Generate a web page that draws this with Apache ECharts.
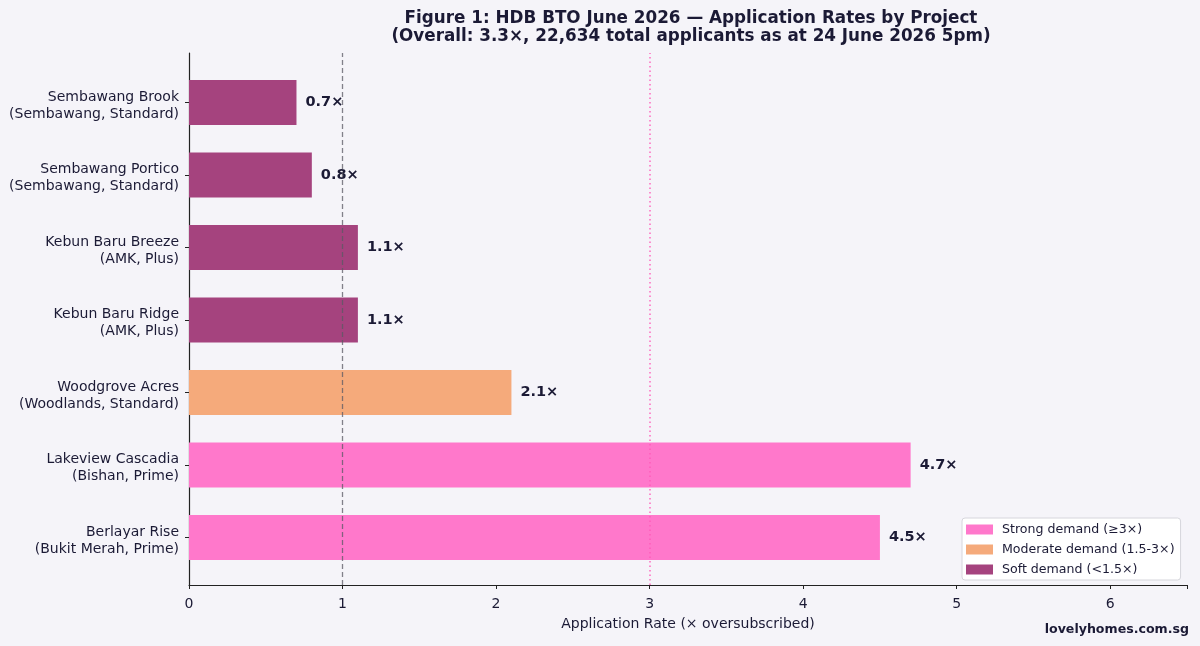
<!DOCTYPE html>
<html>
<head>
<meta charset="utf-8">
<script src="https://cdn.jsdelivr.net/npm/echarts@6/dist/echarts.min.js"></script>
<style>
html,body{margin:0;padding:0;background:#f5f4f9;}
#chart{width:1200px;height:646px;}
</style>
</head>
<body>
<div id="chart"></div>
<script>
const projects = [
  "Sembawang Brook\n(Sembawang, Standard)",
  "Sembawang Portico\n(Sembawang, Standard)",
  "Kebun Baru Breeze\n(AMK, Plus)",
  "Kebun Baru Ridge\n(AMK, Plus)",
  "Woodgrove Acres\n(Woodlands, Standard)",
  "Lakeview Cascadia\n(Bishan, Prime)",
  "Berlayar Rise\n(Bukit Merah, Prime)"
];
const rates = [0.7, 0.8, 1.1, 1.1, 2.1, 4.7, 4.5];
const demandGroups = ["Strong demand (≥3×)", "Moderate demand (1.5-3×)", "Soft demand (<1.5×)"];
const groupColors = ["#ff78cb", "#f5aa7b", "#a5437e"];
const referenceLines = [1, 3];
const xTicks = [0, 1, 2, 3, 4, 5, 6];

function groupOf(v) { return v >= 3 ? 0 : (v >= 1.5 ? 1 : 2); }

const FONT = "DejaVu Sans";
const TXT = "#1b1a35";

const barSeries = demandGroups.map((name, gi) => ({
  name: name,
  type: 'bar',
  stack: 'r',
  xAxisIndex: 1,
  yAxisIndex: 1,
  barWidth: 45,
  itemStyle: { color: groupColors[gi] },
  data: rates.map(v => groupOf(v) === gi ? v : '-'),
  label: {
    show: true,
    position: 'right',
    distance: 9,
    fontFamily: FONT,
    fontWeight: 'bold',
    fontSize: 14.5,
    color: TXT,
    formatter: p => p.value.toFixed(1) + '×'
  },
  z: 2
}));

const option = {
  backgroundColor: '#f5f4f9',
  animation: false,
  title: {
    text: 'Figure 1: HDB BTO June 2026 — Application Rates by Project\n(Overall: 3.3×, 22,634 total applicants as at 24 June 2026 5pm)',
    left: 686,
    textAlign: 'center',
    top: 4,
    textStyle: { fontFamily: FONT, fontWeight: 'bold', fontSize: 16.8, color: TXT, lineHeight: 18.5 }
  },
  graphic: [{
    type: 'text',
    right: 11,
    top: 623,
    style: { text: 'lovelyhomes.com.sg', fontFamily: FONT, fontWeight: 'bold', fontSize: 12.6, fill: TXT }
  }],
  legend: {
    orient: 'vertical',
    left: 962,
    top: 518,
    itemWidth: 27,
    itemHeight: 10,
    itemGap: 7,
    padding: [5, 6, 4, 4],
    backgroundColor: '#ffffff',
    borderColor: '#d6d6dc',
    borderWidth: 1,
    borderRadius: 3,
    icon: 'rect',
    textStyle: { fontFamily: FONT, fontSize: 12.6, color: TXT, padding: [0, 0, 0, 4] },
    data: demandGroups
  },
  grid: [
    { left: 189, right: 13, top: 53, bottom: 61 },
    { left: 189, right: 13, top: 66.25, height: 507.5 },
    { left: 189, right: 13, top: 69.25, height: 507.5 }
  ],
  xAxis: [
    {
      gridIndex: 0, type: 'value', min: 0, max: 6.5, interval: 1,
      axisLine: { show: true, lineStyle: { color: '#222', width: 1.2 } },
      axisTick: { show: true, length: 4, lineStyle: { color: '#222' } },
      axisLabel: { fontFamily: FONT, fontSize: 14, color: TXT, margin: 12,
        formatter: v => xTicks.includes(v) ? String(v) : '' },
      splitLine: { show: false },
      name: 'Application Rate (× oversubscribed)',
      nameLocation: 'middle',
      nameGap: 32,
      nameTextStyle: { fontFamily: FONT, fontSize: 14, color: TXT }
    },
    { gridIndex: 1, type: 'value', min: 0, max: 6.5, show: false },
    { gridIndex: 2, type: 'value', min: 0, max: 6.5, show: false }
  ],
  yAxis: [
    {
      gridIndex: 0, type: 'value', min: 0, max: 1,
      axisLine: { show: true, lineStyle: { color: '#222', width: 1.2 } },
      axisTick: { show: false }, axisLabel: { show: false }, splitLine: { show: false }
    },
    {
      gridIndex: 1, type: 'category', inverse: true, data: projects,
      axisLine: { show: false },
      axisTick: { show: true, alignWithLabel: true, length: 4, lineStyle: { color: '#222' } },
      axisLabel: { show: false },
      splitLine: { show: false }
    },
    {
      gridIndex: 2, type: 'category', inverse: true, data: projects,
      axisLine: { show: false },
      axisTick: { show: false },
      axisLabel: { fontFamily: FONT, fontSize: 14, color: TXT, margin: 10, lineHeight: 17, align: 'right' },
      splitLine: { show: false }
    }
  ],
  series: barSeries.concat([{
    type: 'scatter',
    xAxisIndex: 0,
    yAxisIndex: 0,
    data: [],
    silent: true,
    z: 5,
    markLine: {
      symbol: 'none',
      silent: true,
      label: { show: false },
      data: [
        { xAxis: referenceLines[0], lineStyle: { color: 'rgba(90,90,100,0.75)', type: [5, 3], width: 1.3 } },
        { xAxis: referenceLines[1], lineStyle: { color: 'rgba(255,90,185,0.9)', type: [1.5, 3], width: 1.5 } }
      ]
    }
  }])
};

const chart = echarts.init(document.getElementById('chart'), null, { renderer: 'canvas' });
chart.setOption(option);
</script>
</body>
</html>
